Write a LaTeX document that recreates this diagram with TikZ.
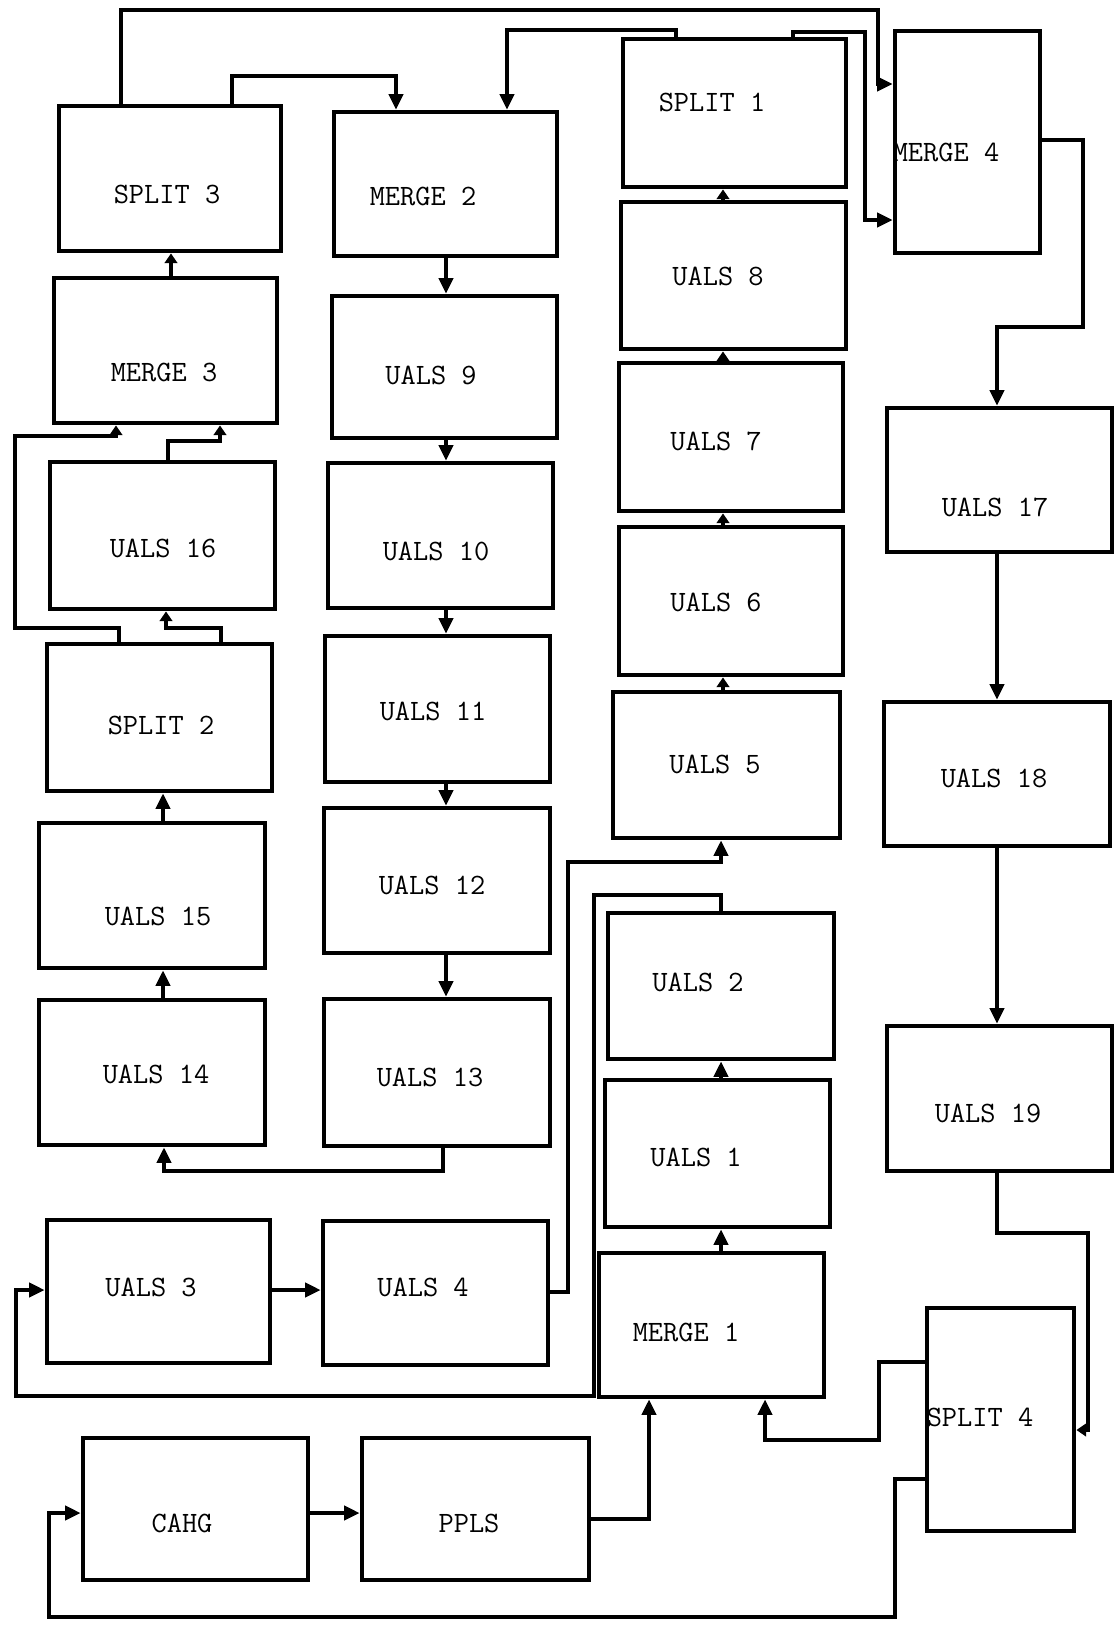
\documentclass[tikz,border=0pt]{standalone}
\usepackage{tikz}
\usetikzlibrary{arrows.meta, fit}
\tikzset{
    caja/.style={draw, line width=3.4pt, inner sep=0pt},
    rotulo/.style={font=\fontsize{21}{25}\selectfont\ttfamily, inner sep=0pt},
    flecha/.style={line width=2.6pt, -{Triangle[length=11pt, width=10pt]}},
    flechac/.style={line width=2.6pt, -{Triangle[length=7pt, width=9pt]}},
}

\begin{document}
\begin{tikzpicture}[x=0.025cm, y=-0.025cm]
\useasboundingbox (0,0) rectangle (1119,1627);

% Cajas: columna izquierda
\node[caja, fit={(59,106) (281,251)}] (split3) {};
\node[caja, fit={(54,278) (277,423)}] (merge3) {};
\node[caja, fit={(50,462) (275,609)}] (uals16) {};
\node[caja, fit={(47,644) (272,791)}] (split2) {};
\node[caja, fit={(39,823) (265,968)}] (uals15) {};
\node[caja, fit={(39,1000) (265,1145)}] (uals14) {};
\node[caja, fit={(47,1220) (270,1363)}] (uals3) {};
\node[caja, fit={(83,1438) (308,1580)}] (cahg) {};

% Cajas: segunda columna
\node[caja, fit={(334,112) (557,256)}] (merge2) {};
\node[caja, fit={(332,296) (557,438)}] (uals9) {};
\node[caja, fit={(328,463) (553,608)}] (uals10) {};
\node[caja, fit={(325,636) (550,782)}] (uals11) {};
\node[caja, fit={(324,808) (550,953)}] (uals12) {};
\node[caja, fit={(324,999) (550,1146)}] (uals13) {};
\node[caja, fit={(323,1221) (548,1365)}] (uals4) {};
\node[caja, fit={(362,1438) (589,1580)}] (ppls) {};

% Cajas: tercera columna
\node[caja, fit={(623,39) (846,187)}] (split1) {};
\node[caja, fit={(621,202) (846,349)}] (uals8) {};
\node[caja, fit={(619,363) (843,511)}] (uals7) {};
\node[caja, fit={(619,527) (843,675)}] (uals6) {};
\node[caja, fit={(613,692) (840,838)}] (uals5) {};
\node[caja, fit={(608,913) (834,1059)}] (uals2) {};
\node[caja, fit={(605,1080) (830,1227)}] (uals1) {};
\node[caja, fit={(599,1253) (824,1397)}] (merge1) {};

% Cajas: columna derecha
\node[caja, fit={(895,31) (1040,253)}] (merge4) {};
\node[caja, fit={(887,408) (1112,552)}] (uals17) {};
\node[caja, fit={(884,702) (1110,846)}] (uals18) {};
\node[caja, fit={(887,1026) (1112,1171)}] (uals19) {};
\node[caja, fit={(927,1308) (1074,1531)}] (split4) {};

% Rotulos
\node[rotulo] (tsplit3) at (167,194) {SPLIT 3};
\node[rotulo] (tmerge3) at (164,372) {MERGE 3};
\node[rotulo] (tuals16) at (163,548) {UALS 16};
\node[rotulo] (tsplit2) at (161,725) {SPLIT 2};
\node[rotulo] (tuals15) at (158,916) {UALS 15};
\node[rotulo] (tuals14) at (156,1074) {UALS 14};
\node[rotulo] (tuals3) at (151,1287) {UALS 3};
\node[rotulo] (tcahg) at (182,1523) {CAHG};
\node[rotulo] (tmerge2) at (423,196) {MERGE 2};
\node[rotulo] (tuals9) at (431,375) {UALS 9};
\node[rotulo] (tuals10) at (436,551) {UALS 10};
\node[rotulo] (tuals11) at (433,711) {UALS 11};
\node[rotulo] (tuals12) at (432,885) {UALS 12};
\node[rotulo] (tuals13) at (430,1077) {UALS 13};
\node[rotulo] (tuals4) at (423,1287) {UALS 4};
\node[rotulo] (tppls) at (469,1523) {PPLS};
\node[rotulo] (tsplit1) at (712,102) {SPLIT 1};
\node[rotulo] (tuals8) at (718,276) {UALS 8};
\node[rotulo] (tuals7) at (716,441) {UALS 7};
\node[rotulo] (tuals6) at (716,602) {UALS 6};
\node[rotulo] (tuals5) at (715,764) {UALS 5};
\node[rotulo] (tuals2) at (698,982) {UALS 2};
\node[rotulo] (tuals1) at (696,1157) {UALS 1};
\node[rotulo] (tmerge1) at (686,1332) {MERGE 1};
\node[rotulo] (tmerge4) at (946,152) {MERGE 4};
\node[rotulo] (tuals17) at (995,507) {UALS 17};
\node[rotulo] (tuals18) at (994,778) {UALS 18};
\node[rotulo] (tuals19) at (988,1113) {UALS 19};
\node[rotulo] (tsplit4) at (980,1417) {SPLIT 4};

% Cadenas rectas
\foreach \a/\b in {merge2/uals9, uals9/uals10, uals10/uals11, uals11/uals12, uals12/uals13} {
    \draw[flecha] (\a.south -| 446,0) -- (\b.north -| 446,0);
}
\foreach \a/\b in {uals5/uals6, uals6/uals7, uals7/uals8, uals8/split1} {
    \draw[flechac] (\a.north -| 723,0) -- (\b.south -| 723,0);
}
\foreach \a/\b in {merge1/uals1, uals1/uals2} {
    \draw[flecha] (\a.north -| 721,0) -- (\b.south -| 721,0);
}
\foreach \a/\b in {uals14/uals15, uals15/split2} {
    \draw[flecha] (\a.north -| 163,0) -- (\b.south -| 163,0);
}
\foreach \a/\b in {uals17/uals18, uals18/uals19} {
    \draw[flecha] (\a.south -| 997,0) -- (\b.north -| 997,0);
}
\draw[flechac] (merge3.north -| 171,0) -- (split3.south -| 171,0);

% Lazos de arriba
\draw[flecha] (split3.north -| 121,0) |- (878,10) |- (merge4.west |- 0,84);
\draw[flecha] (split3.north -| 232,0) |- (396,76) -- (merge2.north -| 396,0);
\draw[flecha] (split1.north -| 676,0) |- (507,30) -- (merge2.north -| 507,0);
\draw[flecha] (split1.north -| 793,0) |- (865,32) |- (merge4.west |- 0,220);
\draw[flecha] (merge4.east |- 0,140) -| (1083,327) -| (uals17.north -| 997,0);

% Lazos de la izquierda
\draw[flechac] (split2.north -| 119,0) |- (15,628) |- (116,436) -- (merge3.south -| 116,0);
\draw[flechac] (split2.north -| 221,0) |- (166,628) -- (uals16.south -| 166,0);
\draw[flechac] (uals16.north -| 168,0) |- (220,441) -- (merge3.south -| 220,0);
\draw[flecha] (uals13.south -| 443,0) |- (164,1171) -- (uals14.south -| 164,0);

% Lazos de abajo
\draw[flecha] (uals2.north -| 721,0) |- (594,895) |- (16,1396) |- (uals3.west |- 0,1290);
\draw[flecha] (uals3.east |- 0,1290) -- (uals4.west |- 0,1290);
\draw[flecha] (uals4.east |- 0,1292) -| (568,862) -| (uals5.south -| 721,0);
\draw[flechac] (uals19.south -| 997,0) |- (1088,1233) |- (split4.east |- 0,1430);
\draw[flecha] (split4.west |- 0,1362) -| (879,1440) -| (merge1.south -| 765,0);
\draw[flecha] (split4.west |- 0,1479) -| (895,1617) -| (49,1513) -- (cahg.west |- 0,1513);
\draw[flecha] (cahg.east |- 0,1513) -- (ppls.west |- 0,1513);
\draw[flecha] (ppls.east |- 0,1519) -| (merge1.south -| 649,0);
\end{tikzpicture}
\end{document}
